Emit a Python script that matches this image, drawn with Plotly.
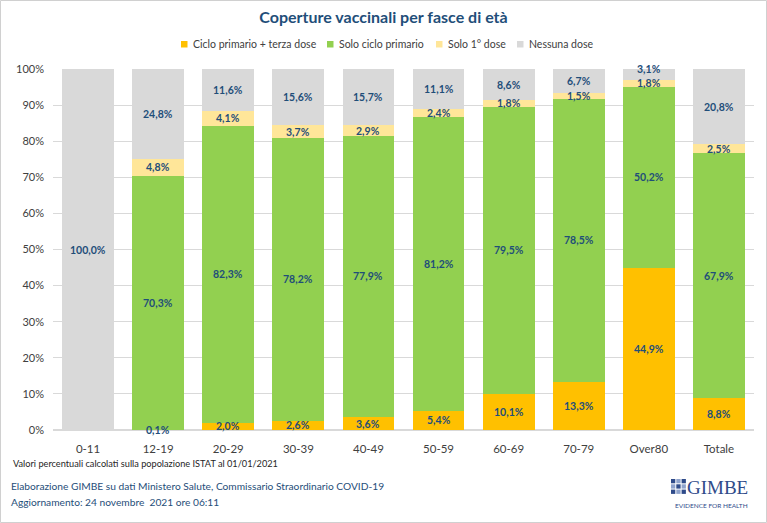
import plotly.graph_objects as go

categories = ["0-11", "12-19", "20-29", "30-39", "40-49", "50-59", "60-69", "70-79", "Over80", "Totale"]
terza_dose = [0.0, 0.1, 2.0, 2.6, 3.6, 5.4, 10.1, 13.3, 44.9, 8.8]
solo_ciclo = [0.0, 70.3, 82.3, 78.2, 77.9, 81.2, 79.5, 78.5, 50.2, 67.9]
solo_prima = [0.0, 4.8, 4.1, 3.7, 2.9, 2.4, 1.8, 1.5, 1.8, 2.5]
nessuna = [100.0, 24.8, 11.6, 15.6, 15.7, 11.1, 8.6, 6.7, 3.1, 20.8]

series = [
    ("Ciclo primario + terza dose", terza_dose, "#FFC000"),
    ("Solo ciclo primario", solo_ciclo, "#92D050"),
    ("Solo 1° dose", solo_prima, "#FFE699"),
    ("Nessuna dose", nessuna, "#D9D9D9"),
]

W, H = 767, 523
ml, mr, mt, mb = 53, 13, 69, 93
pw, ph = W - ml - mr, H - mt - mb

def px(x):
    return (x - ml) / pw

def py(y):
    return (H - mb - y) / ph

FONT = "Lato"
NAVY = "#1F4E79"

fig = go.Figure()
for name, vals, col in series:
    fig.add_trace(go.Bar(
        x=categories, y=vals, name=name,
        marker=dict(color=col, line=dict(width=0)),
        hoverinfo="skip", showlegend=False,
    ))

fig.update_layout(
    width=W, height=H,
    barmode="stack", bargap=0.26,
    margin=dict(l=ml, r=mr, t=mt, b=mb),
    paper_bgcolor="white", plot_bgcolor="white",
    font=dict(family=FONT, color="#404040"),
    title=dict(text="<b>Coperture vaccinali per fasce di età</b>", x=0.5, xref="container",
               y=1 - 17 / H, yref="container", yanchor="middle",
               font=dict(family=FONT, size=16, color=NAVY)),
    xaxis=dict(showline=False, ticks="", tickfont=dict(family=FONT, size=11.5, color="#404040"),
               showgrid=False, ticklabelstandoff=10),
    yaxis=dict(range=[0, 100], dtick=10, ticksuffix="%", showgrid=True, gridcolor="#D9D9D9",
               gridwidth=1, zeroline=True, zerolinecolor="#D9D9D9", showline=False,
               tickfont=dict(family=FONT, size=11, color="#404040"), ticklabelstandoff=8),
)

annotations = []
# data labels at segment centres (computed from the data)
base = [0.0] * len(categories)
for si, (name, vals, col) in enumerate(series):
    for i, v in enumerate(vals):
        if v > 0:
            if si == len(series) - 1 and v < 5:
                yl = base[i] + v
            else:
                yl = base[i] + v / 2
            annotations.append(dict(
                x=categories[i], y=yl, xref="x", yref="y",
                text="<b>" + f"{v:.1f}".replace(".", ",") + "%</b>",
                showarrow=False, xanchor="center", yanchor="middle",
                font=dict(family=FONT, size=10.5, color=NAVY)))
        base[i] += v

# custom legend
legend_pos = [184, 330, 439, 520]
shapes = []
for (name, vals, col), lx in zip(series, legend_pos):
    shapes.append(dict(type="rect", x0=px(lx - 3), x1=px(lx + 3.5), y0=py(47.5), y1=py(41),
                       line=dict(width=0), fillcolor=col))
    annotations.append(dict(text=name, x=px(lx + 7), y=py(44), xanchor="left", yanchor="middle",
                            font=dict(family=FONT, size=10.5, color="#404040")))

annotations += [
    dict(text="Valori percentuali calcolati sulla popolazione ISTAT al 01/01/2021",
         x=px(11), y=py(463), xanchor="left", yanchor="middle",
         font=dict(family=FONT, size=9.2, color="#262626")),
    dict(text="Elaborazione GIMBE su dati Ministero Salute, Commissario Straordinario COVID-19",
         x=px(9), y=py(486), xanchor="left", yanchor="middle",
         font=dict(family=FONT, size=10.2, color=NAVY)),
    dict(text="Aggiornamento: 24 novembre  2021 ore 06:11",
         x=px(9), y=py(502), xanchor="left", yanchor="middle",
         font=dict(family=FONT, size=10.2, color=NAVY)),
    dict(text="GIMBE", x=px(750), y=py(487), xanchor="right", yanchor="middle",
         font=dict(family="Liberation Serif", size=19, color="#2F4B8A")),
    dict(text="EVIDENCE FOR HEALTH", x=px(750), y=py(505), xanchor="right", yanchor="middle",
         font=dict(family=FONT, size=6.5, color="#2F4B8A")),
]
for a in annotations:
    if "xref" not in a:
        a.update(xref="paper", yref="paper")
    a["showarrow"] = False
fig.update_layout(annotations=annotations)

shapes.append(dict(type="rect", x0=px(0.5), x1=px(W - 0.5), y0=py(0.5), y1=py(H - 0.5),
                   line=dict(color="#D0D0D0", width=1), fillcolor="rgba(0,0,0,0)"))
# small grid icon of the logo
for i in range(3):
    for j in range(3):
        x0 = 671 + i * 5.3
        y0 = 479 + j * 5.3
        shapes.append(dict(type="rect", x0=px(x0), x1=px(x0 + 4.3), y0=py(y0), y1=py(y0 + 4.3),
                           line=dict(width=0), fillcolor="#2F4B8A" if (i + j) % 2 == 0 else "#8FA3CC"))
for s in shapes:
    s.update(xref="paper", yref="paper", layer="above")
fig.update_layout(shapes=shapes)

fig.write_html("out.html")
